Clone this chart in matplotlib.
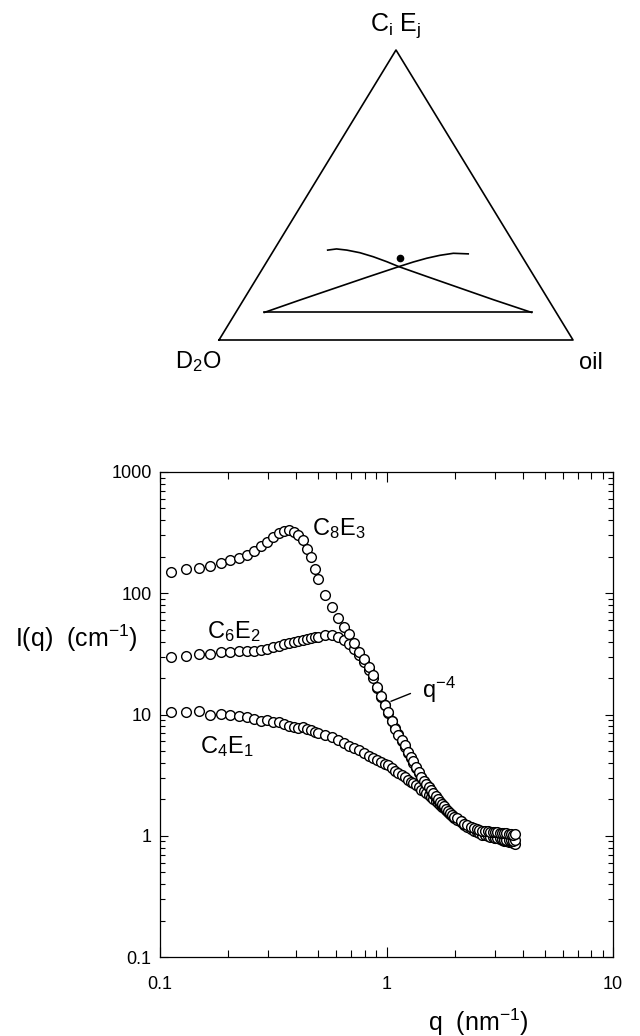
import matplotlib
matplotlib.use("Agg")
import matplotlib.pyplot as plt

plt.rcParams['font.family'] = ['Liberation Sans', 'DejaVu Sans']
plt.rcParams['mathtext.fontset'] = 'custom'
plt.rcParams['mathtext.rm'] = 'Liberation Sans'
plt.rcParams['mathtext.it'] = 'Liberation Sans:italic'
plt.rcParams['mathtext.default'] = 'regular'

# ---- dados do espalhamento (q em nm^-1, I em cm^-1) ----
q = [0.112, 0.130, 0.149, 0.167, 0.186, 0.204, 0.223, 0.241, 0.260, 0.278,
     0.297, 0.315, 0.334, 0.352, 0.371, 0.389, 0.408, 0.426, 0.445, 0.463,
     0.482, 0.500, 0.537, 0.574, 0.611, 0.648, 0.685, 0.722, 0.759, 0.796,
     0.833, 0.870, 0.907, 0.944, 0.981, 1.018, 1.055, 1.092, 1.129, 1.166,
     1.203, 1.240, 1.277, 1.314, 1.351, 1.388, 1.425, 1.462, 1.499, 1.536,
     1.573, 1.610, 1.647, 1.684, 1.721, 1.758, 1.795, 1.832, 1.869, 1.906,
     1.943, 1.980, 2.054, 2.128, 2.202, 2.276, 2.350, 2.424, 2.498, 2.572,
     2.646, 2.720, 2.794, 2.868, 2.942, 3.016, 3.090, 3.164, 3.238, 3.312,
     3.386, 3.460, 3.534, 3.608, 3.682]

c8e3 = [150, 157, 162, 169, 178, 188, 195, 208, 224, 243,
        266, 289, 314, 328, 331, 320, 302, 275, 231, 198,
        160, 130, 97, 77, 62, 53, 46, 39, 33, 28.5,
        24.5, 21, 17, 14.2, 12.0, 10.5, 8.8, 7.6, 6.8, 6.2,
        5.6, 4.9, 4.5, 4.1, 3.7, 3.35, 3.05, 2.82, 2.65, 2.52,
        2.38, 2.24, 2.12, 2.01, 1.91, 1.83, 1.75, 1.66, 1.59, 1.53,
        1.48, 1.44, 1.39, 1.33, 1.26, 1.22, 1.19, 1.16, 1.13, 1.12,
        1.10, 1.09, 1.09, 1.08, 1.08, 1.07, 1.07, 1.06, 1.06, 1.05,
        1.05, 1.04, 1.03, 1.02, 1.04]

c6e2 = [30.0, 30.3, 31.3, 31.3, 32.6, 32.6, 33.4, 33.4, 33.4, 34.1,
        34.8, 35.9, 36.8, 37.8, 38.8, 39.6, 40.4, 41.3, 42.2, 42.8,
        43.3, 43.9, 45.0, 45.3, 43.4, 40.8, 37.8, 34.5, 31.0, 27.2,
        23.5, 20.0, 16.4, 14.0, 12.0, 10.3, 8.9, 7.8, 6.9, 6.1,
        5.4, 4.8, 4.35, 3.95, 3.6, 3.3, 3.05, 2.85, 2.66, 2.50,
        2.35, 2.22, 2.10, 1.99, 1.89, 1.80, 1.72, 1.64, 1.57, 1.51,
        1.46, 1.41, 1.35, 1.29, 1.23, 1.18, 1.14, 1.10, 1.07, 1.05,
        1.02, 1.01, 0.99, 0.98, 0.97, 0.96, 0.95, 0.95, 0.94, 0.93,
        0.93, 0.92, 0.92, 0.91, 0.92]

c4e1 = [10.4, 10.5, 10.7, 9.9, 10.1, 9.9, 9.7, 9.5, 9.1, 8.9,
        9.0, 8.7, 8.6, 8.4, 8.1, 7.9, 7.8, 7.9, 7.6, 7.5,
        7.2, 7.0, 6.75, 6.5, 6.15, 5.8, 5.5, 5.3, 5.05, 4.8,
        4.55, 4.35, 4.2, 4.05, 3.9, 3.8, 3.6, 3.45, 3.3, 3.17,
        3.03, 2.9, 2.8, 2.7, 2.6, 2.5, 2.4, 2.32, 2.24, 2.16,
        2.08, 2.01, 1.95, 1.88, 1.81, 1.74, 1.68, 1.62, 1.57, 1.52,
        1.48, 1.44, 1.38, 1.32, 1.26, 1.21, 1.17, 1.13, 1.10, 1.07,
        1.05, 1.03, 1.01, 0.99, 0.98, 0.96, 0.95, 0.94, 0.92, 0.91,
        0.90, 0.89, 0.88, 0.87, 0.86]

x_ticks = [0.1, 1, 10]
x_labels = ['0.1', '1', '10']
y_ticks = [0.1, 1, 10, 100, 1000]
y_labels = ['0.1', '1', '10', '100', '1000']

# ---- diagrama de fases (coordenadas normalizadas do triangulo) ----
tri_x = [0.0, 1.0, 0.5, 0.0]
tri_y = [0.0, 0.0, 1.0, 0.0]
base3_x = [0.128, 0.883]
base3_y = [0.095, 0.095]
ramo_a_x = [0.128, 0.229, 0.323, 0.417, 0.508, 0.549, 0.587, 0.624, 0.662, 0.704]
ramo_a_y = [0.095, 0.138, 0.177, 0.216, 0.253, 0.269, 0.282, 0.292, 0.299, 0.297]
ramo_b_x = [0.883, 0.775, 0.681, 0.587, 0.508, 0.474, 0.436, 0.398, 0.361, 0.332, 0.307]
ramo_b_y = [0.095, 0.139, 0.179, 0.219, 0.253, 0.270, 0.287, 0.301, 0.310, 0.314, 0.310]
ponto = (0.511, 0.283)

fig = plt.figure(figsize=(6.4, 10.36), dpi=100)

# triangulo
at = fig.add_axes([219/640, 1 - 340/1036, 354/640, 290/1036])
at.set_xlim(0, 1)
at.set_ylim(0, 1)
at.axis('off')
lw = 1.2
at.plot(tri_x, tri_y, color='black', lw=lw, clip_on=False)
at.plot(base3_x, base3_y, color='black', lw=lw)
at.plot(ramo_a_x, ramo_a_y, color='black', lw=lw)
at.plot(ramo_b_x, ramo_b_y, color='black', lw=lw)
at.plot([ponto[0]], [ponto[1]], 'o', color='black', ms=4.5)
at.text(0.5, 1.035, r'C$_i$ E$_j$', ha='center', va='bottom', fontsize=18)
at.text(-0.06, -0.03, r'D$_2$O', ha='center', va='top', fontsize=17)
at.text(1.05, -0.04, 'oil', ha='center', va='top', fontsize=17)

# grafico I(q)
ax = fig.add_axes([160/640, 1 - 957/1036, 453/640, 485/1036])
ax.set_xscale('log')
ax.set_yscale('log')
estilo = dict(ls='none', marker='o', ms=7, mfc='white', mec='black', mew=1.0)
ax.plot(q, c4e1, **estilo)
ax.plot(q, c6e2, **estilo)
ax.plot(q, c8e3, **estilo)
ax.set_xlim(0.1, 10)
ax.set_ylim(0.1, 1000)
ax.set_xticks(x_ticks)
ax.set_xticklabels(x_labels)
ax.set_yticks(y_ticks)
ax.set_yticklabels(y_labels)
ax.tick_params(which='both', direction='in', top=True, right=True, width=0.8)
ax.tick_params(which='major', labelsize=13)
ax.tick_params(axis='x', which='major', length=7, pad=14)
ax.tick_params(axis='x', which='minor', length=5)
ax.tick_params(axis='y', which='major', length=6, pad=6)
ax.tick_params(axis='y', which='minor', length=3.6)
for s in ax.spines.values():
    s.set_linewidth(0.9)

ax.text(0.469, 302, r'C$_8$E$_3$', fontsize=17)
ax.text(0.161, 42.8, r'C$_6$E$_2$', fontsize=17)
ax.text(0.150, 4.8, r'C$_4$E$_1$', fontsize=17)
ax.annotate('', xy=(1.019, 12.6), xytext=(1.31, 15.2),
            arrowprops=dict(arrowstyle='-', color='black', lw=1.0))
ax.text(1.435, 13.7, r'q$^{-4}$', fontsize=17)

ax.set_ylabel(r'I(q)  (cm$^{-1}$)', rotation=0, fontsize=18, ha='center', va='center')
ax.yaxis.set_label_coords(-0.185, 0.658)
ax.set_xlabel(r'q  (nm$^{-1}$)', fontsize=18, ha='center', va='center')
ax.xaxis.set_label_coords(0.702, -0.134)

fig.savefig('out.png', dpi=100)
